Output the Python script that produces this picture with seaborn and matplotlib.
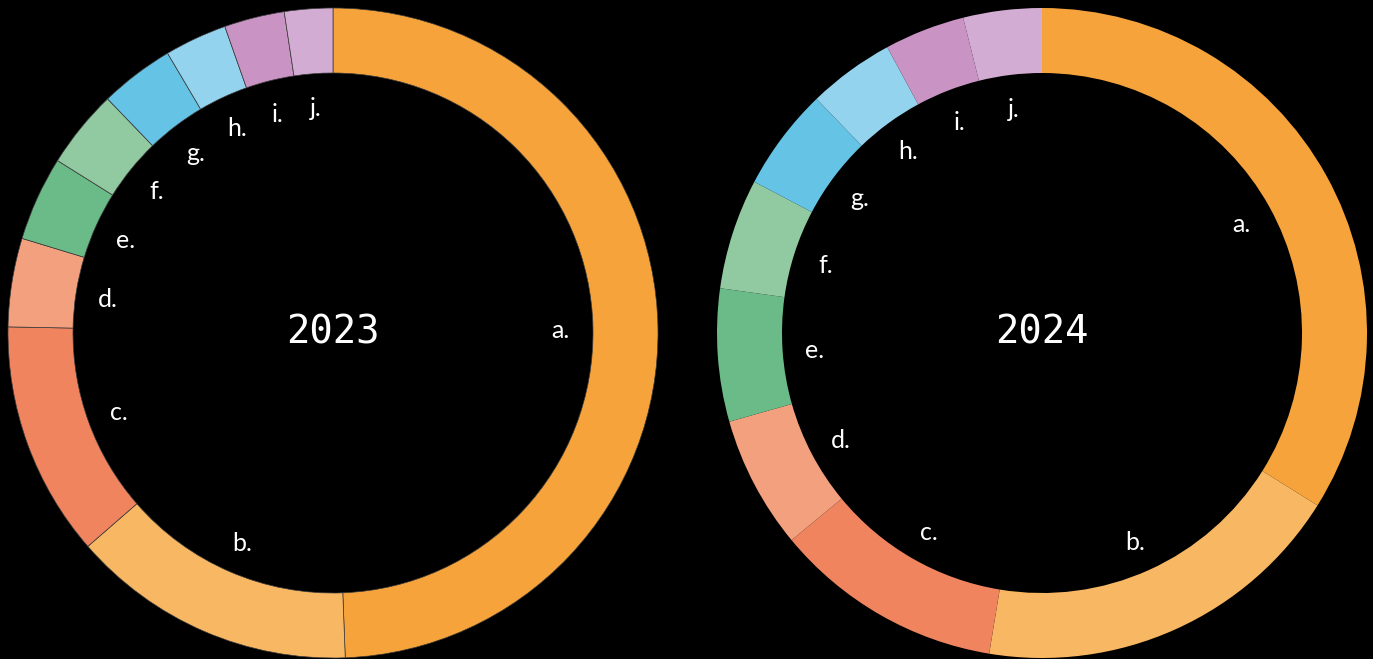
import matplotlib
matplotlib.use("Agg")
import matplotlib.pyplot as plt
import numpy as np
import seaborn as sns

labels = ["a.", "b.", "c.", "d.", "e.", "f.", "g.", "h.", "i.", "j."]
shares_2023 = [49.4, 14.2, 11.7, 4.4, 4.2, 3.9, 3.7, 3.1, 3.0, 2.4]
shares_2024 = [33.9, 18.7, 11.4, 6.6, 6.6, 5.5, 5.1, 4.3, 4.0, 3.9]
colors = ["#F5A33A", "#F8B762", "#EF845F", "#F3A07F", "#6BBB88",
          "#91C9A0", "#65C3E6", "#93D3ED", "#C993C4", "#D3ACD3"]

sns.set_theme(style="dark", rc={"figure.facecolor": "black",
                                "axes.facecolor": "black"})
palette = sns.color_palette(colors)
plt.rcParams["font.family"] = ["Lato", "DejaVu Sans"]

fig = plt.figure(figsize=(13.73, 6.59), dpi=100)
fig.patch.set_facecolor("black")

W, H = 1373, 659
panels = [
    ("2023", shares_2023, 8, {"edgecolor": "#3a3a3a", "linewidth": 0.5}),
    ("2024", shares_2024, 717, {"edgecolor": "none", "linewidth": 0}),
]

for year, shares, x0, edge in panels:
    ax = fig.add_axes([x0 / W, 1 / H, 650 / W, 650 / H])
    ax.set_facecolor("black")
    wedges, _ = ax.pie(shares, colors=palette, startangle=90, counterclock=False,
                       radius=1.0, wedgeprops=dict(width=0.2, **edge))
    for w, lab in zip(wedges, labels):
        mid = np.deg2rad((w.theta1 + w.theta2) / 2)
        r = 0.70
        ax.text(r * np.cos(mid), r * np.sin(mid), lab, color="white",
                fontsize=18, ha="center", va="center_baseline")
    ax.text(0, 0, year, color="white", fontsize=28, ha="center", va="center",
            family="DejaVu Sans Mono")
    ax.set_xlim(-1, 1)
    ax.set_ylim(-1, 1)
    ax.set_aspect("equal")
    ax.axis("off")

fig.savefig("out.png", dpi=100, facecolor="black")
